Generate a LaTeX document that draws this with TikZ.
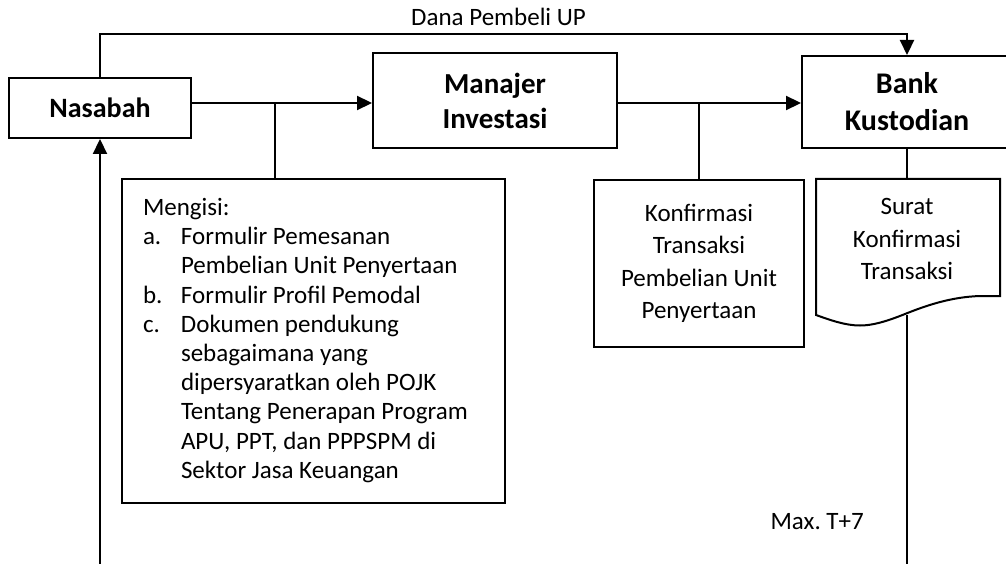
\documentclass[tikz,border=0pt]{standalone}
\usepackage{fontspec}
\setmainfont{Carlito}
\usetikzlibrary{arrows.meta}
\begin{document}
\begin{tikzpicture}[x=1pt,y=-1pt,
  box/.style={draw, line width=2pt, inner sep=0pt, align=center},
  conn/.style={line width=2.2pt},
  arr/.style={conn, -{Triangle[length=15pt,width=14pt]}},
  reg/.style={font=\fontsize{25}{30}\selectfont},
  lbl/.style={reg, inner sep=0pt}]
\useasboundingbox (0,0) rectangle (1006,564);
% boxes
\node[box, minimum width=182pt, minimum height=60pt,
      font=\bfseries\fontsize{28}{34}\selectfont] (nas) at (100,108) {Nasabah};
\node[box, minimum width=244pt, minimum height=95pt,
      font=\bfseries\fontsize{29}{35}\selectfont] (man) at (495,100.5) {Manajer\\Investasi};
\node[box, minimum width=210pt, minimum height=92pt,
      font=\bfseries\fontsize{30}{37}\selectfont] (bank) at (907,102) {Bank\\Kustodian};
\node[box, minimum width=383pt, minimum height=324pt, text width=341pt,
      inner xsep=21pt, align=left, font=\fontsize{25}{29.2}\selectfont] (meng) at (313.5,341)
  {\noindent\spaceskip=0pt\xspaceskip=0pt\begin{tabular}{@{}p{38pt}@{}l@{}}
   \multicolumn{2}{@{}l@{}}{Mengisi:}\\
   a. & Formulir Pemesanan\\
      & Pembelian Unit Penyertaan\\
   b. & Formulir Profil Pemodal\\
   c. & Dokumen pendukung\\
      & sebagaimana yang\\
      & dipersyaratkan oleh POJK\\
      & Tentang Penerapan Program\\
      & APU, PPT, dan PPPSPM di\\
      & Sektor Jasa Keuangan
   \end{tabular}};
\node[box, minimum width=210pt, minimum height=167pt,
      font=\fontsize{25}{32.5}\selectfont] (konf) at (699,263.5)
  {Konfirmasi\\Transaksi\\Pembelian Unit\\Penyertaan};
% document shape
\draw[line width=2pt] (816,179) -- (1000,179) -- (1000,296) -- (980,296)
  .. controls (950,297) and (925,306) .. (905,314)
  .. controls (885,322) and (872,325.5) .. (860,325.5)
  .. controls (845,325.5) and (830,320) .. (816,315) -- cycle;
\node[lbl, align=center, font=\fontsize{25}{32.5}\selectfont] (surat) at (907,239)
  {Surat\\Konfirmasi\\Transaksi};
% labels
\node[lbl, anchor=base] (dana) at (498.5,26) {Dana Pembeli UP};
\node[lbl, anchor=base east] (maxt) at (864,529) {Max.\ T+7};
% coordinates
\coordinate (topy) at (500,34);
\coordinate (ay) at (0,103);
\coordinate (br1) at (275,103);
\coordinate (br2) at (699,103);
\coordinate (lbot) at (100,564);
\coordinate (rbot) at (907,564);
\coordinate (stop) at (907,179);
\coordinate (sbot) at (907,315);
% connectors
\draw[arr] (nas.north) |- (topy) -| (bank.north);
\draw[arr] (nas.east |- ay) -- (man.west |- ay);
\draw[conn] (br1) -- (br1 |- meng.north);
\draw[arr] (man.east |- ay) -- (bank.west |- ay);
\draw[conn] (br2) -- (konf.north);
\draw[conn] (bank.south) -- (stop);
\draw[conn] (sbot) -- (rbot);
\draw[arr] (lbot) -- (nas.south);
\end{tikzpicture}
\end{document}
